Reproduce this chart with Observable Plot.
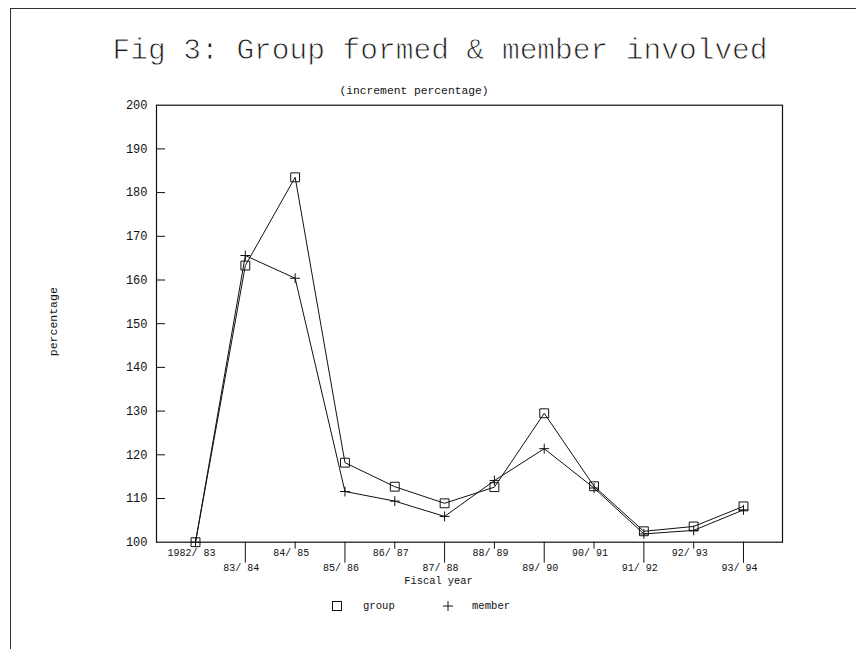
<!DOCTYPE html>
<html><head><meta charset="utf-8">
<script src="https://cdn.jsdelivr.net/npm/d3@7"></script>
<script src="https://cdn.jsdelivr.net/npm/@observablehq/plot@0.6"></script>
<style>
body{margin:0;background:#fff;}
#wrap{position:relative;width:860px;height:649px;overflow:hidden;font-family:"Liberation Mono",monospace;color:#111;}
#border{position:absolute;left:10px;top:8px;width:845px;height:660px;border-top:1.5px solid #333;border-left:1.5px solid #333;}
#title{position:absolute;left:0;width:880px;top:36px;text-align:center;font-size:29.5px;line-height:30px;white-space:pre;color:#1a1a1a;-webkit-text-stroke:0.8px #fff;paint-order:normal;}
#subtitle{position:absolute;left:0;width:828px;top:85px;text-align:center;font-size:11.3px;line-height:12px;white-space:pre;}
#chart{position:absolute;left:0;top:0;}
#legend{position:absolute;top:599px;left:0;width:860px;height:14px;font-size:10.6px;line-height:14px;}
#legend span{position:absolute;top:0;}
#legend svg{position:absolute;top:0;}
</style></head>
<body>
<div id="wrap">
  <div id="border"></div>
  <div id="chart"></div>
  <div id="title">Fig 3: Group formed &amp; member involved</div>
  <div id="subtitle">(increment percentage)</div>
  <div id="legend"></div>
</div>
<script>
const years = ["1982/ 83","83/ 84","84/ 85","85/ 86","86/ 87","87/ 88","88/ 89","89/ 90","90/ 91","91/ 92","92/ 93","93/ 94"];
const group  = [100, 163.3, 183.5, 118.2, 112.7, 108.9, 112.6, 129.5, 112.8, 102.5, 103.6, 108.2];
const member = [100, 165.6, 160.4, 111.6, 109.4, 105.9, 114.1, 121.4, 112.4, 101.9, 102.7, 107.4];
const yTicks = [100, 110, 120, 130, 140, 150, 160, 170, 180, 190, 200];
const seriesNames = ["group", "member"];

const gData = years.map((y, i) => ({i, v: group[i]}));
const mData = years.map((y, i) => ({i, v: member[i]}));
const idx = years.map((_, i) => i);
const evens = idx.filter(i => i % 2 === 0);
const odds = idx.filter(i => i % 2 === 1);

const ink = "#111";
const chart = Plot.plot({
  width: 860,
  height: 649,
  marginLeft: 156,
  marginRight: 78,
  marginTop: 104.7,
  marginBottom: 107.3,
  style: {fontFamily: "Liberation Mono, monospace", background: "transparent", color: ink},
  x: {type: "linear", domain: [-0.783, 11.783], label: null},
  y: {domain: [100, 200], label: null},
  marks: [
    Plot.frame({stroke: ink, strokeWidth: 1.2}),
    Plot.axisY({ticks: yTicks, tickSize: 0, tickPadding: 9, fontSize: 12, tickFormat: d => String(d), label: null}),
    Plot.axisY({ticks: yTicks.slice(1, -1), tickSize: 9, dx: 9, tickFormat: () => "", label: null, stroke: ink}),
    Plot.axisX({ticks: evens.slice(1), tickSize: 7, tickFormat: () => "", label: null, stroke: ink}),
    Plot.axisX({ticks: odds, tickSize: 21, tickFormat: () => "", label: null, stroke: ink}),
    Plot.axisX({ticks: evens, tickSize: 0, tickPadding: 7, dx: -4, fontSize: 10, tickFormat: i => years[i], label: null}),
    Plot.axisX({ticks: odds, tickSize: 0, tickPadding: 22, dx: -4, fontSize: 10, tickFormat: i => years[i], label: null}),
    Plot.text(["Fiscal year"], {text: d => d, frameAnchor: "bottom", dx: -31, dy: 42, fontSize: 10.4, fill: ink}),
    Plot.text(["percentage"], {text: d => d, frameAnchor: "left", textAnchor: "middle", dx: -103, dy: -2, rotate: -90, fontSize: 11.5, fill: ink}),
    Plot.line(gData, {x: "i", y: "v", stroke: ink, strokeWidth: 1}),
    Plot.line(mData, {x: "i", y: "v", stroke: ink, strokeWidth: 1}),
    Plot.dot(gData, {x: "i", y: "v", symbol: "square", r: 5, stroke: ink, fill: "none", strokeWidth: 1}),
    Plot.dot(mData, {x: "i", y: "v", symbol: "plus", r: 3.3, stroke: ink, strokeWidth: 1})
  ]
});
document.getElementById("chart").appendChild(chart);

const legend = document.getElementById("legend");
legend.innerHTML =
  `<svg width="12" height="14" style="left:331px"><rect x="1.5" y="2.5" width="9" height="9" fill="none" stroke="${ink}" stroke-width="1"/></svg>` +
  `<span style="left:363px">${seriesNames[0]}</span>` +
  `<svg width="12" height="14" style="left:442px"><path d="M1,7H11M6,2V12" stroke="${ink}" stroke-width="1"/></svg>` +
  `<span style="left:472px">${seriesNames[1]}</span>`;
</script>
</body></html>
